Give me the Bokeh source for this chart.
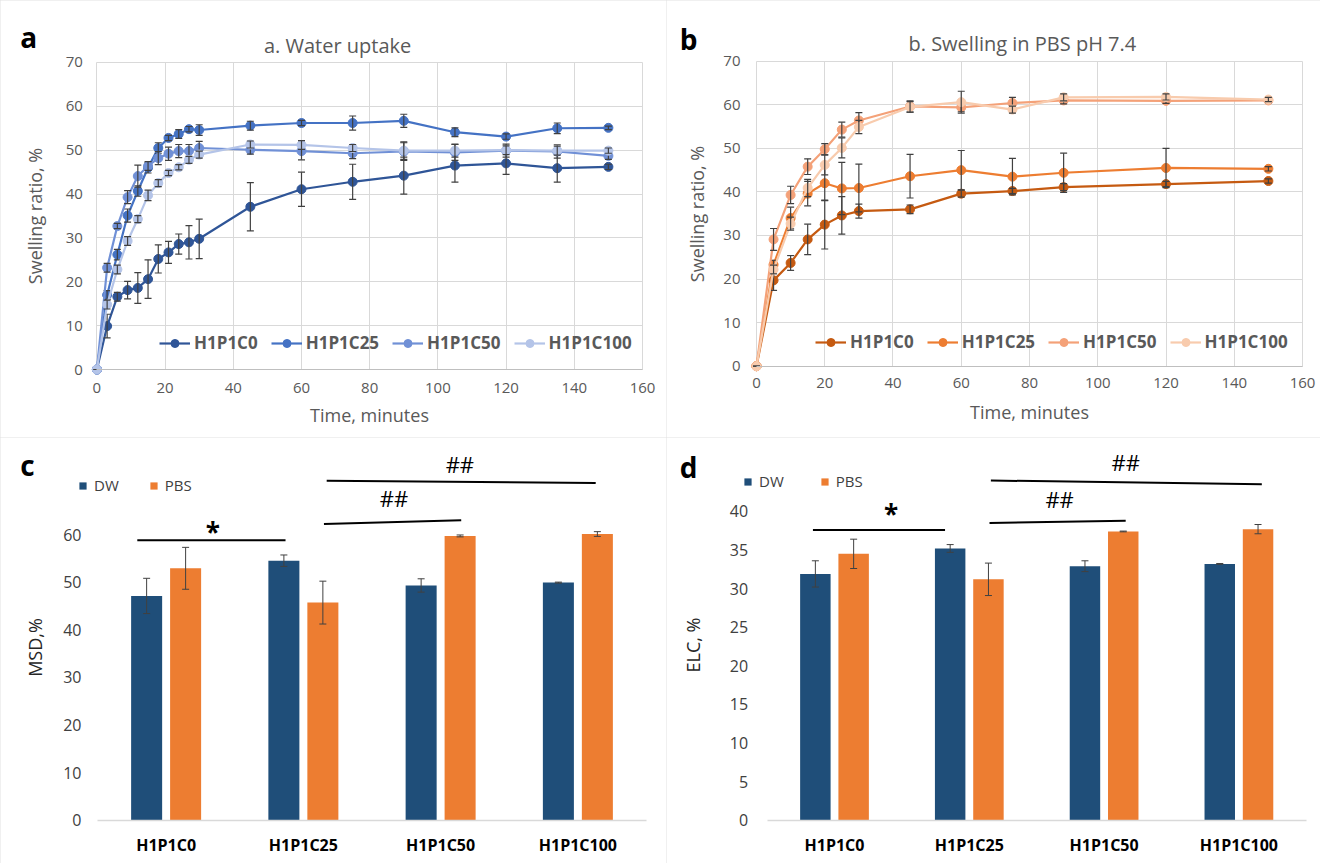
from bokeh.plotting import figure
from bokeh.models import (ColumnDataSource, Legend, LegendItem, Label, Range1d, Grid,
                          FixedTicker)
from bokeh.transform import dodge
from bokeh.layouts import gridplot
from bokeh.embed import file_html
from bokeh.resources import INLINE
from bokeh.core.properties import value

FONT = "Open Sans"
GRAY_TXT = "#595959"
DARK_TXT = "#404040"
ERR = "#404040"
HAS_CB = "cross_bounds" in Grid.properties()

# ---------------- Panel a: water uptake ----------------
t_a = [0, 3, 6, 9, 12, 15, 18, 21, 24, 27, 30, 45, 60, 75, 90, 105, 120, 135, 150]
a_C0 = [0, 9.9, 16.6, 18.1, 18.6, 20.6, 25.2, 26.7, 28.6, 29.0, 29.8, 37.1, 41.1, 42.8, 44.2, 46.5, 47.0, 45.9, 46.2]
a_C0_err = [0, 2.7, 1.0, 2.0, 3.5, 4.4, 3.2, 2.5, 2.3, 3.8, 4.5, 5.5, 3.9, 4.0, 4.2, 3.8, 2.5, 3.2, 0.6]
a_C25 = [0, 17.0, 26.2, 35.1, 40.7, 46.0, 50.5, 52.8, 53.7, 54.8, 54.6, 55.6, 56.2, 56.2, 56.7, 54.1, 53.1, 55.0, 55.1]
a_C25_err = [0, 1.0, 1.2, 1.5, 1.2, 1.2, 1.2, 0.6, 1.0, 0.6, 1.2, 1.0, 0.6, 1.6, 1.5, 1.0, 0.6, 1.2, 0.4]
a_C50 = [0, 23.2, 32.7, 39.3, 44.1, 46.4, 48.2, 49.2, 49.8, 49.8, 50.5, 50.1, 49.8, 49.3, 49.7, 49.5, 49.9, 49.7, 48.7]
a_C50_err = [0, 1.0, 0.6, 1.5, 2.5, 1.0, 1.5, 1.5, 1.5, 1.5, 1.5, 1.0, 2.0, 1.2, 2.0, 1.8, 1.5, 1.5, 0.8]
a_C100 = [0, 14.8, 22.8, 29.3, 34.3, 39.7, 42.5, 44.8, 46.1, 47.8, 49.0, 51.3, 51.2, 50.5, 49.9, 49.9, 50.0, 49.9, 49.9]
a_C100_err = [0, 1.0, 1.0, 1.0, 0.8, 1.2, 0.8, 0.6, 0.6, 0.8, 0.8, 0.8, 1.0, 0.8, 2.0, 1.5, 1.0, 1.0, 0.6]

# ---------------- Panel b: swelling in PBS ----------------
t_b = [0, 5, 10, 15, 20, 25, 30, 45, 60, 75, 90, 120, 150]
b_C0 = [0, 19.7, 23.7, 29.1, 32.5, 34.6, 35.6, 36.0, 39.6, 40.2, 41.1, 41.8, 42.5]
b_C0_err = [0, 2.3, 1.7, 3.5, 5.6, 4.3, 1.6, 1.0, 0.8, 0.6, 0.8, 0.6, 0.5]
b_C25 = [0, 23.3, 34.0, 39.6, 42.0, 40.8, 40.9, 43.6, 45.0, 43.5, 44.4, 45.5, 45.3]
b_C25_err = [0, 1.0, 2.5, 2.8, 4.0, 6.0, 5.5, 5.0, 4.5, 4.2, 4.5, 4.5, 0.5]
b_C50 = [0, 29.1, 39.3, 45.8, 49.8, 54.3, 56.4, 59.6, 59.4, 60.4, 61.0, 60.9, 61.0]
b_C50_err = [0, 2.5, 2.0, 1.8, 1.3, 1.7, 1.8, 1.3, 1.0, 1.3, 0.8, 0.6, 0.5]
b_C100 = [0, 22.2, 32.7, 40.9, 46.2, 50.1, 54.9, 59.5, 60.6, 58.9, 61.7, 61.8, 61.2]
b_C100_err = [0, 1.0, 1.5, 2.0, 2.3, 2.3, 1.5, 1.2, 2.5, 0.8, 0.8, 0.7, 0.5]

series_names = ["H1P1C0", "H1P1C25", "H1P1C50", "H1P1C100"]
blues = ["#2F5597", "#4472C4", "#7090D6", "#B4C4E8"]
oranges = ["#C55A11", "#ED7D31", "#F4A178", "#F8CBAD"]
time_ticks = [0, 20, 40, 60, 80, 100, 120, 140, 160]
swell_ticks = [0, 10, 20, 30, 40, 50, 60, 70]

# ---------------- Panels c, d: bars ----------------
cats = ["H1P1C0", "H1P1C25", "H1P1C50", "H1P1C100"]
msd_dw = [47.1, 54.5, 49.3, 49.9]
msd_dw_err = [3.7, 1.2, 1.4, 0.1]
msd_pbs = [52.9, 45.7, 59.7, 60.1]
msd_pbs_err = [4.4, 4.5, 0.2, 0.5]
elc_dw = [31.9, 35.2, 32.9, 33.2]
elc_dw_err = [1.7, 0.5, 0.7, 0.05]
elc_pbs = [34.5, 31.2, 37.4, 37.7]
elc_pbs_err = [1.9, 2.1, 0.05, 0.6]
msd_ticks = [0, 10, 20, 30, 40, 50, 60]
elc_ticks = [0, 5, 10, 15, 20, 25, 30, 35, 40]

sig_text = ["*", "##", "##"]
sig_c_x0 = [0.29, 1.65, 1.67]
sig_c_x1 = [1.37, 2.65, 3.63]
sig_c_y0 = [58.8, 62.2, 71.3]
sig_c_y1 = [58.8, 63.0, 70.8]
sig_c_tx = [0.84, 2.16, 2.64]
sig_c_ty = [60.6, 67.6, 74.8]
sig_d_x0 = [0.34, 1.65, 1.66]
sig_d_x1 = [1.32, 2.66, 3.67]
sig_d_y0 = [37.6, 38.5, 44.0]
sig_d_y1 = [37.6, 38.8, 43.5]
sig_d_tx = [0.92, 2.17, 2.66]
sig_d_ty = [39.6, 41.6, 46.4]

DW_C = "#1F4E79"
PBS_C = "#ED7D31"
BOX = {"outline": "1px solid #e0e0e0", "outline-offset": "-1px"}


def style_axes(p, tick_color, tick_size, label_color, label_size):
    for ax in (p.xaxis[0], p.yaxis[0]):
        ax.fixed_location = 0
        ax.major_tick_line_color = None
        ax.minor_tick_line_color = None
        ax.major_tick_out = 0
        ax.major_tick_in = 0
        ax.major_label_text_font = FONT
        ax.major_label_text_font_size = tick_size
        ax.major_label_text_color = tick_color
        ax.axis_label_text_font = FONT
        ax.axis_label_text_font_size = label_size
        ax.axis_label_text_font_style = "normal"
        ax.axis_label_text_color = label_color


def text_label(p, x, y, text, size, color, bold=False):
    p.add_layout(Label(x=x, y=y, text=text, text_font=FONT, text_font_size=size,
                       text_font_style="bold" if bold else "normal",
                       text_color=color, text_align="center", text_baseline="middle"))


def line_panel(title, title_x, title_y, letter, letter_x, letter_y, t, ys, errs, colors,
               width, xr, yr, legend_loc, y_std, y_lab_std, x_std, x_lab_std):
    p = figure(width=width, height=437, x_range=Range1d(*xr), y_range=Range1d(*yr),
               output_backend="svg", toolbar_location=None, min_border=0,
               x_axis_label="Time, minutes", y_axis_label="Swelling ratio, %",
               styles=BOX)
    p.outline_line_color = None
    p.xaxis.ticker = time_ticks
    p.yaxis.ticker = swell_ticks
    style_axes(p, GRAY_TXT, "15px", GRAY_TXT, "18px")
    p.xaxis.bounds = (0, 160)
    p.yaxis.bounds = (0, 70)
    p.xaxis.axis_line_color = "#bfbfbf"
    p.yaxis.axis_line_color = None
    p.yaxis.major_label_standoff = y_std
    p.yaxis.axis_label_standoff = y_lab_std
    p.xaxis.major_label_standoff = x_std
    p.xaxis.axis_label_standoff = x_lab_std
    p.grid.grid_line_color = "#d9d9d9"
    if HAS_CB:
        p.xgrid.cross_bounds = (0, 70)
        p.ygrid.cross_bounds = (0, 160)
    else:
        p.grid.grid_line_color = None
        p.segment(x0=time_ticks, y0=[0] * len(time_ticks), x1=time_ticks,
                  y1=[70] * len(time_ticks), line_color="#d9d9d9")
        p.segment(x0=[0] * len(swell_ticks), y0=swell_ticks, x1=[160] * len(swell_ticks),
                  y1=swell_ticks, line_color="#d9d9d9")

    items = []
    for y, e, name, c in zip(ys, errs, series_names, colors):
        src = ColumnDataSource(dict(t=t, y=y,
                                    lo=[a - b for a, b in zip(y, e)],
                                    hi=[a + b for a, b in zip(y, e)]))
        ln = p.line("t", "y", source=src, line_color=c, line_width=2.2)
        sc = p.scatter("t", "y", source=src, marker="circle", size=9,
                       fill_color=c, line_color=c)
        p.segment(x0="t", y0="lo", x1="t", y1="hi", source=src,
                  line_color=ERR, line_width=1.2)
        p.scatter("t", "lo", source=src, marker="dash", size=7, line_color=ERR, line_width=1.2)
        p.scatter("t", "hi", source=src, marker="dash", size=7, line_color=ERR, line_width=1.2)
        items.append(LegendItem(label=name, renderers=[ln, sc]))
    leg = Legend(items=items, orientation="horizontal", location=legend_loc,
                 background_fill_alpha=0, border_line_color=None,
                 label_text_font=FONT, label_text_font_size="17px",
                 label_text_font_style="bold", label_text_color=GRAY_TXT,
                 glyph_width=31, glyph_height=20, label_standoff=4, spacing=13,
                 padding=4, margin=0)
    p.add_layout(leg)
    text_label(p, title_x, title_y, title, "20px", GRAY_TXT)
    text_label(p, letter_x, letter_y, letter, "28px", "black", bold=True)
    return p


def bar_panel(ylabel, dw, dwe, pbs, pbse, yticks, ybounds, width, xr, yr, letter,
              letter_x, letter_y, legend_loc, legend_spacing, sx0, sx1, sy0, sy1, stx, sty,
              y_std, y_lab_std):
    p = figure(width=width, height=426, x_range=Range1d(*xr), y_range=Range1d(*yr),
               output_backend="svg", toolbar_location=None, min_border=0,
               y_axis_label=ylabel, styles=BOX)
    p.outline_line_color = None
    centers = [i + 0.5 for i in range(len(cats))]
    p.xaxis.ticker = FixedTicker(ticks=centers)
    p.xaxis.major_label_overrides = {c: name for c, name in zip(centers, cats)}
    p.yaxis.ticker = yticks
    style_axes(p, DARK_TXT, "16px", "#262626", "18px")
    p.xaxis.bounds = (0, len(cats))
    p.yaxis.bounds = ybounds
    p.xaxis.major_label_text_font_style = "bold"
    p.xaxis.major_label_text_color = "black"
    p.xaxis.major_label_text_font_size = "16px"
    p.xaxis.major_label_standoff = 14
    p.xaxis.axis_line_color = "#d9d9d9"
    p.xaxis.axis_line_width = 1.5
    p.yaxis.axis_line_color = None
    p.yaxis.major_label_standoff = y_std
    p.yaxis.axis_label_standoff = y_lab_std
    p.grid.grid_line_color = None

    src = ColumnDataSource(dict(xc=centers, dw=dw, pbs=pbs,
                                dw_lo=[a - b for a, b in zip(dw, dwe)],
                                dw_hi=[a + b for a, b in zip(dw, dwe)],
                                pbs_lo=[a - b for a, b in zip(pbs, pbse)],
                                pbs_hi=[a + b for a, b in zip(pbs, pbse)]))
    off = 0.142
    r1 = p.vbar(x=dodge("xc", -off), top="dw", width=0.226,
                source=src, fill_color=DW_C, line_color=None)
    r2 = p.vbar(x=dodge("xc", off), top="pbs", width=0.226,
                source=src, fill_color=PBS_C, line_color=None)
    for o, lo, hi in ((-off, "dw_lo", "dw_hi"), (off, "pbs_lo", "pbs_hi")):
        xd = dodge("xc", o)
        p.segment(x0=xd, y0=lo, x1=xd, y1=hi, source=src, line_color=ERR, line_width=1)
        p.scatter(x=xd, y=lo, source=src, marker="dash", size=7, line_color=ERR, line_width=1)
        p.scatter(x=xd, y=hi, source=src, marker="dash", size=7, line_color=ERR, line_width=1)

    p.segment(x0=sx0, y0=sy0, x1=sx1, y1=sy1, line_color="black", line_width=2)
    p.text(x=stx[:1], y=sty[:1], text=sig_text[:1], text_font=value(FONT),
           text_font_size="26px", text_font_style="bold", text_color="black",
           text_align="center", text_baseline="alphabetic")
    p.text(x=stx[1:], y=sty[1:], text=sig_text[1:], text_font=value(FONT),
           text_font_size="22px", text_color="black",
           text_align="center", text_baseline="alphabetic")

    leg = Legend(items=[LegendItem(label="DW", renderers=[r1]),
                        LegendItem(label="PBS", renderers=[r2])],
                 orientation="horizontal", location=legend_loc,
                 background_fill_alpha=0, border_line_color=None,
                 label_text_font=FONT, label_text_font_size="15px",
                 label_text_color=DARK_TXT, glyph_width=9, glyph_height=9,
                 label_standoff=7, spacing=legend_spacing, padding=2, margin=0)
    p.add_layout(leg)
    text_label(p, letter_x, letter_y, letter, "28px", "black", bold=True)
    return p


pa = line_panel("a. Water uptake", 70.6, 73.9, "a", -20.0, 75.7, t_a,
                [a_C0, a_C25, a_C50, a_C100], [a_C0_err, a_C25_err, a_C50_err, a_C100_err],
                blues, 666, (-28.27, 167.04), (-15.50, 84.13), (159, 83), 14, 15, 13, 7)
pb = line_panel("b. Swelling in PBS pH 7.4", 77.9, 74.1, "b", -19.9, 75.0, t_b,
                [b_C0, b_C25, b_C50, b_C100], [b_C0_err, b_C25_err, b_C50_err, b_C100_err],
                oranges, 654, (-26.37, 165.27), (-16.36, 83.93), (149, 84), 16, 11, 12, 8)
pc = bar_panel("MSD,%", msd_dw, msd_dw_err, msd_pbs, msd_pbs_err, msd_ticks, (0, 72.6),
               666, (-0.7067, 4.1457), (-9.09, 80.37), "c", -0.51, 74.5,
               (78, 368), 30, sig_c_x0, sig_c_x1, sig_c_y0, sig_c_y1, sig_c_tx, sig_c_ty,
               16, 13)
pd = bar_panel("ELC, %", elc_dw, elc_dw_err, elc_pbs, elc_pbs_err, elc_ticks, (0, 45.4),
               654, (-0.7463, 4.1053), (-5.61, 49.57), "d", -0.583, 45.8,
               (77, 372), 36, sig_d_x0, sig_d_x1, sig_d_y0, sig_d_y1, sig_d_tx, sig_d_ty,
               19, 22)

grid = gridplot([[pa, pb], [pc, pd]], toolbar_location=None)
open("out.html", "w").write(file_html(grid, INLINE))
